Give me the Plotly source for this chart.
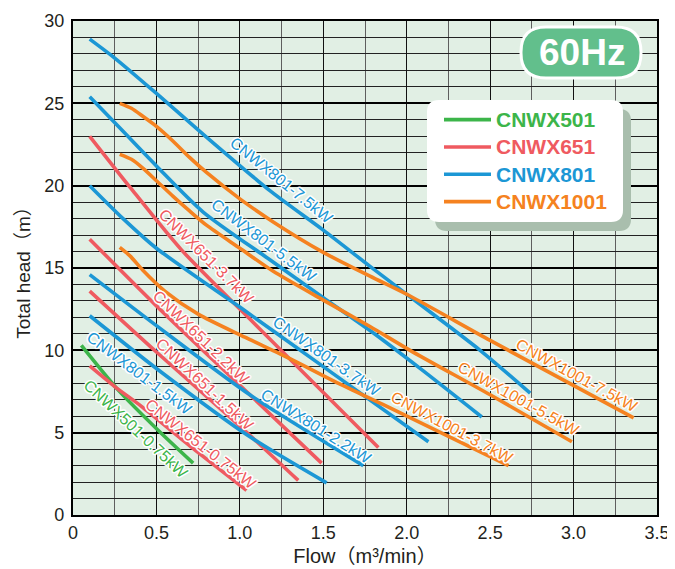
import plotly.graph_objects as go

# ---------------- data ----------------
MODELS = ["CNWX501", "CNWX651", "CNWX801", "CNWX1001"]
COLORS = {"CNWX501": "#3cb54a", "CNWX651": "#ef5a60",
          "CNWX801": "#1c97d5", "CNWX1001": "#f58220"}

c501_075_x = [0.05, 0.17, 0.27, 0.51, 0.72]
c501_075_y = [10.3, 8.8, 7.6, 5.15, 3.15]

c651_075_x = [0.1, 0.25, 0.41, 0.7, 1.04]
c651_075_y = [9.05, 7.8, 6.6, 4.2, 1.5]
c651_15_x = [0.1, 0.5, 1.0, 1.35]
c651_15_y = [13.6, 9.9, 5.4, 2.1]
c651_22_x = [0.1, 0.5, 1.06, 1.49]
c651_22_y = [16.75, 12.7, 7.3, 3.15]
c651_37_x = [0.1, 0.35, 0.65, 1.06, 1.83]
c651_37_y = [23.0, 19.8, 16.1, 11.9, 4.1]

c801_15_x = [0.1, 0.5, 1.06, 1.52]
c801_15_y = [12.1, 8.9, 4.75, 1.95]
c801_22_x = [0.1, 0.5, 1.06, 1.74]
c801_22_y = [14.6, 11.5, 7.3, 3.0]
c801_37_x = [0.1, 0.3, 0.5, 1.01, 1.46, 2.13]
c801_37_y = [20.0, 18.0, 16.2, 12.55, 9.3, 4.45]
c801_55_x = [0.1, 0.3, 0.5, 0.78, 1.18, 1.5, 1.78, 2.08, 2.45]
c801_55_y = [25.4, 23.3, 21.2, 18.4, 15.5, 13.2, 11.2, 8.9, 5.95]
c801_75_x = [0.1, 0.25, 0.5, 0.76, 1.18, 1.5, 1.78, 2.02, 2.44, 2.74]
c801_75_y = [28.9, 27.75, 25.6, 23.3, 19.7, 17.3, 15.1, 13.25, 10.0, 7.4]

c1001_37_x = [0.28, 0.34, 0.42, 0.55, 0.75, 1.03, 1.3, 1.57, 1.86, 2.61]
c1001_37_y = [16.25, 15.75, 14.85, 13.6, 12.2, 10.8, 9.5, 8.1, 6.7, 3.0]
c1001_55_x = [0.28, 0.35, 0.42, 0.5, 0.6, 0.7, 0.8, 1.0, 1.2, 1.5, 1.78, 2.02, 2.5, 2.99]
c1001_55_y = [21.9, 21.6, 21.05, 20.3, 19.35, 18.45, 17.6, 16.2, 14.8, 13.05, 11.45, 10.0, 7.3, 4.45]
c1001_75_x = [0.28, 0.35, 0.42, 0.5, 0.6, 0.7, 0.8, 1.0, 1.2, 1.5, 1.78, 2.02, 2.5, 3.36]
c1001_75_y = [25.0, 24.7, 24.2, 23.6, 22.7, 21.7, 20.8, 19.2, 17.8, 15.95, 14.5, 13.3, 10.6, 5.9]

curves = [
    ("CNWX501", "0.75kW", c501_075_x, c501_075_y),
    ("CNWX651", "0.75kW", c651_075_x, c651_075_y),
    ("CNWX651", "1.5kW", c651_15_x, c651_15_y),
    ("CNWX651", "2.2kW", c651_22_x, c651_22_y),
    ("CNWX651", "3.7kW", c651_37_x, c651_37_y),
    ("CNWX801", "1.5kW", c801_15_x, c801_15_y),
    ("CNWX801", "2.2kW", c801_22_x, c801_22_y),
    ("CNWX801", "3.7kW", c801_37_x, c801_37_y),
    ("CNWX801", "5.5kW", c801_55_x, c801_55_y),
    ("CNWX801", "7.5kW", c801_75_x, c801_75_y),
    ("CNWX1001", "3.7kW", c1001_37_x, c1001_37_y),
    ("CNWX1001", "5.5kW", c1001_55_x, c1001_55_y),
    ("CNWX1001", "7.5kW", c1001_75_x, c1001_75_y),
]

# curve label placement
label_model = ["CNWX801", "CNWX801", "CNWX651", "CNWX651", "CNWX651", "CNWX801",
               "CNWX501", "CNWX651", "CNWX801", "CNWX801", "CNWX1001", "CNWX1001", "CNWX1001"]
label_kw = ["7.5kW", "5.5kW", "3.7kW", "2.2kW", "1.5kW", "1.5kW",
            "0.75kW", "0.75kW", "2.2kW", "3.7kW", "3.7kW", "5.5kW", "7.5kW"]
label_x = [1.25, 1.145, 0.80, 0.77, 0.79, 0.40, 0.38, 0.77, 1.46, 1.52, 2.27, 2.67, 3.02]
label_y = [20.3, 16.7, 15.7, 10.8, 7.9, 8.6, 5.2, 4.3, 5.4, 9.6, 5.3, 7.1, 8.5]
label_angle = [39, 37, 45, 44, 43, 37, 43, 38, 32, 35, 28, 29, 28.5]

x_ticks = [0, 0.5, 1.0, 1.5, 2.0, 2.5, 3.0, 3.5]
x_ticktext = ["0", "0.5", "1.0", "1.5", "2.0", "2.5", "3.0", "3.5"]
y_ticks = [0, 5, 10, 15, 20, 25, 30]

# ---------------- figure ----------------
# page body has an 8px margin, so the figure is 8px smaller and offset
OFF = 8
W, H = 675 - OFF, 569 - OFF
ML, MT = 73 - OFF, 21 - OFF
PW, PH = 584, 494
MR, MB = W - ML - PW, H - MT - PH

FONT = "Liberation Sans, Arial, Noto Sans CJK JP, sans-serif"
HALO = ("1px 1px 0px white, -1px -1px 0px white, 1px -1px 0px white, -1px 1px 0px white, "
        "0px 1.5px 0px white, 0px -1.5px 0px white, 1.5px 0px 0px white, -1.5px 0px 0px white, "
        "0px 0px 3px white")

fig = go.Figure()
shown = set()
for model, kw, xs, ys in curves:
    first = model not in shown
    shown.add(model)
    fig.add_trace(go.Scatter(
        x=xs, y=ys, mode="lines",
        line=dict(color=COLORS[model], width=3.6, shape="spline", smoothing=0.7),
        name=f"<b><span style='color:{COLORS[model]};font-size:21px'>{model}</span></b>",
        showlegend=first, legendrank=MODELS.index(model),
        hovertemplate=f"{model}-{kw}<br>%{{x}} m³/min, %{{y}} m<extra></extra>",
    ))

annotations = []
for m, kw, lx, ly, ang in zip(label_model, label_kw, label_x, label_y, label_angle):
    annotations.append(dict(
        x=lx, y=ly, xref="x", yref="y", text=f"{m}-{kw}", showarrow=False,
        textangle=ang, xanchor="center", yanchor="middle",
        font=dict(family=FONT, size=16, color=COLORS[m], shadow=HALO),
    ))


def px2paper(px, py):
    # px, py: window pixel coordinates of the reference
    return (px - OFF - ML) / PW, (MT + PH - (py - OFF)) / PH


def rounded_rect(x0, y0, x1, y1, r):
    def P(px, py):
        a, b = px2paper(px, py)
        return f"{a:.5f},{b:.5f}"
    return (f"M {P(x0 + r, y0)} L {P(x1 - r, y0)} Q {P(x1, y0)} {P(x1, y0 + r)} "
            f"L {P(x1, y1 - r)} Q {P(x1, y1)} {P(x1 - r, y1)} "
            f"L {P(x0 + r, y1)} Q {P(x0, y1)} {P(x0, y1 - r)} "
            f"L {P(x0, y0 + r)} Q {P(x0, y0)} {P(x0 + r, y0)} Z")


shapes = [
    dict(type="path", xref="paper", yref="paper", path=rounded_rect(435, 109, 631, 231, 12),
         fillcolor="#a9bead", line=dict(width=0), layer="above"),
    dict(type="path", xref="paper", yref="paper", path=rounded_rect(427, 100, 623, 222, 12),
         fillcolor="white", line=dict(width=0), layer="above"),
    dict(type="path", xref="paper", yref="paper", path=rounded_rect(521, 27, 641, 78, 25),
         fillcolor="#62bf8c", line=dict(color="white", width=3), layer="above"),
]

bx, by = px2paper(582, 53)
annotations.append(dict(x=bx, y=by, xref="paper", yref="paper", text="60Hz", showarrow=False,
                        xanchor="center", yanchor="middle",
                        font=dict(family=FONT, size=37, color="white", weight="bold")))

lx, ly = px2paper(439, 101)

fig.update_layout(
    width=W, height=H,
    margin=dict(l=ML, r=MR, t=MT, b=MB, pad=0, autoexpand=False),
    paper_bgcolor="white", plot_bgcolor="#e1efe4",
    font=dict(family=FONT, color="#231f20"),
    showlegend=True,
    legend=dict(x=lx, y=ly, xref="paper", yref="paper", xanchor="left", yanchor="top",
                bgcolor="rgba(0,0,0,0)", borderwidth=0,
                font=dict(family=FONT, size=18.7), itemwidth=47, tracegroupgap=0),
    shapes=shapes, annotations=annotations,
    xaxis=dict(range=[0, 3.5], tickvals=x_ticks, ticktext=x_ticktext, automargin=False,
               showgrid=True, gridcolor="#111111", gridwidth=1.3, zeroline=False,
               minor=dict(dtick=0.25, tick0=0, showgrid=True, gridcolor="#5e5e5e", gridwidth=1),
               showline=True, linecolor="black", linewidth=2.2, mirror=True,
               ticks="", tickfont=dict(size=18, color="#231f20"),
               title=dict(text="Flow（m³/min）", font=dict(size=20), standoff=7)),
    yaxis=dict(range=[0, 30], tickvals=y_ticks, automargin=False,
               showgrid=True, gridcolor="#000000", gridwidth=1.8, zeroline=False,
               minor=dict(dtick=1, tick0=0, showgrid=True, gridcolor="#222222", gridwidth=1),
               showline=True, linecolor="black", linewidth=2.2, mirror=True,
               ticks="", ticklabelstandoff=3, tickfont=dict(size=18, color="#231f20"),
               title=dict(text="Total head（m）", font=dict(size=19), standoff=9)),
)

fig.write_html("out.html")
